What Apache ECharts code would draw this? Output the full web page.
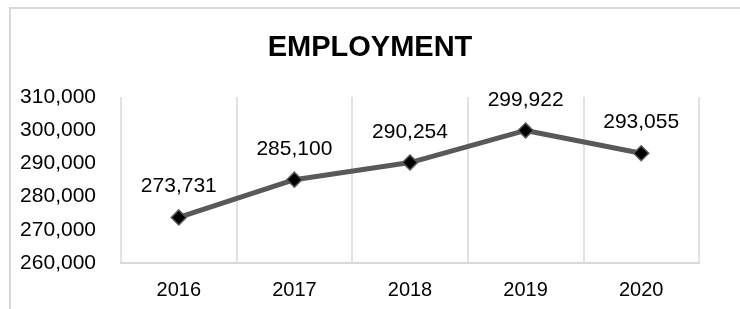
<!DOCTYPE html>
<html>
<head>
<meta charset="utf-8">
<title>Employment</title>
<script src="https://cdn.jsdelivr.net/npm/echarts@6/dist/echarts.min.js"></script>
<style>
  html, body { margin: 0; padding: 0; background: #fff; }
  #main { width: 740px; height: 309px; }
</style>
</head>
<body>
<div id="main"></div>
<script>
var years = ['2016', '2017', '2018', '2019', '2020'];
var employment = [273731, 285100, 290254, 299922, 293055];
var yMin = 260000;
var yMax = 310000;
var yStep = 10000;

var chart = echarts.init(document.getElementById('main'));

var option = {
  backgroundColor: '#fff',
  animation: false,
  title: {
    text: 'EMPLOYMENT',
    left: 'center',
    top: 28,
    textStyle: {
      fontFamily: 'Liberation Sans, Arial, sans-serif',
      fontSize: 29,
      fontWeight: 'bold',
      color: '#000'
    }
  },
  graphic: [{
    type: 'rect',
    shape: { x: 10, y: 8, width: 760, height: 340 },
    style: { fill: 'none', stroke: '#d9d9d9', lineWidth: 2 },
    silent: true
  }],
  grid: {
    left: 121,
    right: 41,
    top: 97,
    bottom: 46
  },
  xAxis: {
    type: 'category',
    data: years,
    boundaryGap: true,
    axisLine: { lineStyle: { color: '#d9d9d9', width: 2 } },
    axisTick: { show: false },
    splitLine: { show: true, lineStyle: { color: '#d9d9d9', width: 1.5 } },
    axisLabel: {
      margin: 17,
      fontFamily: 'Liberation Sans, Arial, sans-serif',
      fontSize: 20,
      color: '#000'
    }
  },
  yAxis: {
    type: 'value',
    min: yMin,
    max: yMax,
    interval: yStep,
    axisLine: { show: false },
    axisTick: { show: false },
    splitLine: { show: false },
    axisLabel: {
      margin: 25,
      fontFamily: 'Liberation Sans, Arial, sans-serif',
      fontSize: 21,
      color: '#000',
      formatter: function (v) { return v.toLocaleString('en-US'); }
    }
  },
  series: [{
    name: 'Employment',
    type: 'line',
    data: employment,
    symbol: 'diamond',
    symbolSize: 15,
    lineStyle: { color: '#595959', width: 5 },
    itemStyle: { color: '#000', borderColor: '#595959', borderWidth: 1.5 },
    label: {
      show: true,
      position: 'top',
      distance: 12,
      fontFamily: 'Liberation Sans, Arial, sans-serif',
      fontSize: 21,
      color: '#000',
      formatter: function (p) { return p.value.toLocaleString('en-US'); }
    }
  }]
};

chart.setOption(option);
</script>
</body>
</html>
